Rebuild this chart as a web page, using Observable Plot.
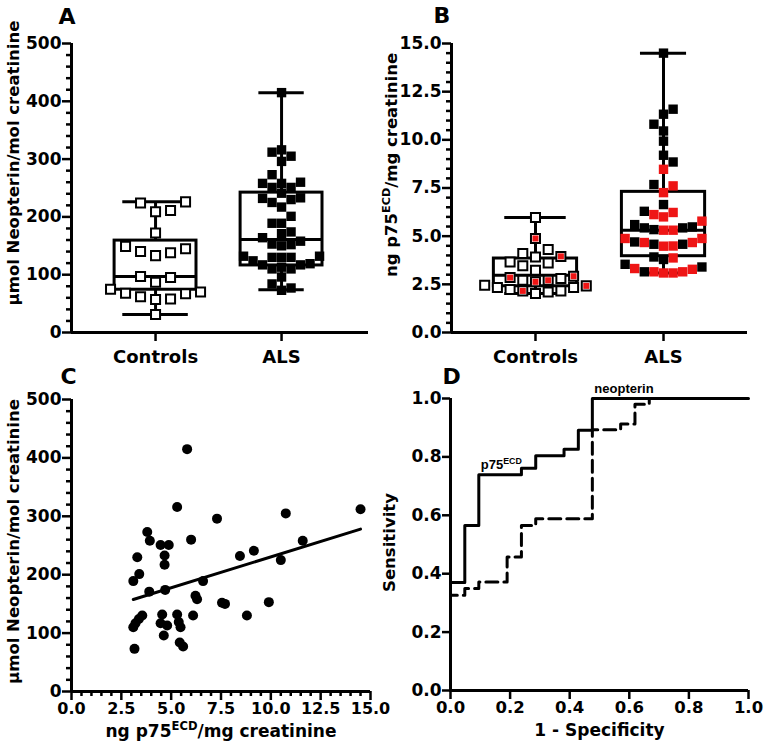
<!DOCTYPE html>
<html><head><meta charset="utf-8">
<script src="https://cdn.jsdelivr.net/npm/d3@7"></script>
<script src="https://cdn.jsdelivr.net/npm/@observablehq/plot@0.6"></script>
<style>
html,body{margin:0;padding:0;background:#fff;}
#fig{position:relative;width:765px;height:750px;overflow:hidden;background:#fff;}
#fig svg{position:absolute;}
</style></head><body><div id="fig"></div>
<script>
// ---------- data ----------
const groups = ["Controls", "ALS"];
const groupPos = [1, 2];

// Panel A: urinary neopterin (µmol/mol creatinine)
const neoControls = [226, 224, 211, 209, 172, 149, 145, 140, 138, 133, 97, 95, 87, 75, 70, 68, 67, 62, 58, 57, 31];
const neoMin = [31, 74];
const neoQ1 = [74, 116];
const neoMed = [97, 161];
const neoQ3 = [159, 242];
const neoMax = [226, 415];

// Panel C (ALS pairs): p75ECD vs neopterin; Panel A ALS uses the same neopterin values
const alsP75 = [5.8, 5.3, 7.3, 10.75, 14.5, 3.8, 3.93, 4.47, 4.88, 6.0, 3.3, 4.67, 4.67, 8.45, 9.15, 11.6, 10.5, 3.1, 3.4, 6.6, 3.9, 4.7, 6.22, 6.3, 7.55, 7.7, 9.9, 8.8, 6.1, 3.55, 3.38, 3.21, 3.1, 4.55, 4.47, 4.8, 4.63, 5.3, 5.38, 5.47, 5.43, 5.6, 3.16];
const alsNeopterin = [415, 316, 296, 305, 312, 273, 258, 251, 251, 260, 230, 233, 217, 232, 241, 258, 225, 189, 201, 189, 171, 174, 164, 158, 152, 150, 153, 130, 130, 130, 124, 117, 110, 132, 117, 113, 96, 132, 119, 110, 84, 77, 73];

// Panel B: urinary p75ECD (ng/mg creatinine); 1 = red symbol
const p75Controls = [5.97, 4.88, 4.31, 4.10, 3.95, 3.92, 3.66, 3.61, 3.46, 3.23, 2.92, 2.85, 2.80, 2.71, 2.71, 2.63, 2.45, 2.42, 2.34, 2.34, 2.23, 2.16, 2.16, 2.10, 2.02];
const p75ControlsRed = [0,1,0,0,1,0,0,0,0,0,1,1,0,1,0,1,0,1,0,0,0,1,0,0,0];
const p75ALS = [14.5, 11.59, 11.33, 10.81, 10.46, 9.93, 9.2, 8.85, 8.47, 7.68, 7.61, 7.26, 6.64, 6.29, 6.23, 6.12, 6.0, 5.78, 5.6, 5.48, 5.43, 5.43, 5.34, 5.31, 5.31, 4.88, 4.88, 4.7, 4.67, 4.67, 4.58, 4.58, 4.49, 4.48, 3.92, 3.87, 3.79, 3.54, 3.4, 3.32, 3.28, 3.15, 3.15, 3.15, 3.09, 3.09];
const p75ALSRed = [0,0,0,0,0,0,0,0,1,0,1,1,0,0,1,1,1,1,0,0,0,0,0,1,1,1,1,0,1,1,0,0,1,1,0,1,0,0,0,1,1,1,1,0,1,1];
const p75Min = [2.02, 3.09];
const p75Q1 = [2.4, 3.96];
const p75Med = [2.97, 5.31];
const p75Q3 = [3.84, 7.3];
const p75Max = [5.97, 14.5];

// Panel D: ROC curves
const rocP75X = [0, 0, 0.048, 0.095, 0.238, 0.286, 0.381, 0.429, 0.476, 1];
const rocP75Y = [0, 0.37, 0.565, 0.739, 0.761, 0.804, 0.826, 0.891, 1, 1];
const rocNeoX = [0, 0, 0.048, 0.095, 0.19, 0.238, 0.286, 0.476, 0.571, 0.619, 0.667, 1];
const rocNeoY = [0, 0.326, 0.349, 0.372, 0.457, 0.565, 0.588, 0.893, 0.913, 0.98, 1, 1];
const rocLabels = ["p75ECD", "neopterin"];
const rocLabelX = [0.095, 0.476];
const rocLabelY = [0.739, 1];

// tick labels
const neoTicks = [0, 100, 200, 300, 400, 500];
const p75Ticks = [0, 2.5, 5, 7.5, 10, 12.5, 15];
const rocTicks = [0, 0.2, 0.4, 0.6, 0.8, 1.0];

// ---------- helpers ----------
const FONT = "DejaVu Sans, sans-serif";
const LW = 3;
const RED = "#ee1515";
const baseStyle = {background: "transparent", overflow: "visible", fontFamily: FONT, fontWeight: "bold", color: "black"};
const f1 = d3.format(".1f");

function minorTicks(lo, hi, step, majors) {
  return d3.range(lo, hi + step / 2, step).map(v => +v.toFixed(4)).filter(v => !majors.some(m => Math.abs(m - v) < 1e-6));
}

// simple deterministic beeswarm: returns x (data units) for each value
function swarmX(values, center, kx, ky, sx, sy) {
  const order = d3.range(values.length).sort((a, b) => d3.ascending(values[a], values[b]));
  const placed = [];
  const xs = new Array(values.length);
  let flip = false;
  for (const i of order) {
    const py = values[i] * ky;
    const near = placed.filter(p => Math.abs(p.py - py) < sy);
    const cands = [0];
    for (const p of near) cands.push(p.px - sx, p.px + sx);
    cands.sort((a, b) => Math.abs(a) - Math.abs(b) || (flip ? a - b : b - a));
    const px = cands.find(c => near.every(p => Math.abs(p.px - c) > sx - 0.01));
    if (px !== 0) flip = !flip;
    placed.push({px, py});
    xs[i] = center + px / kx;
  }
  return xs;
}

function boxMarks(mins, q1s, meds, q3s, maxs, capHalf) {
  const idx = [0, 1], bx = 0.325;
  return [
    Plot.ruleX(idx, {x: i => groupPos[i], y1: i => mins[i], y2: i => q1s[i], strokeWidth: LW}),
    Plot.ruleX(idx, {x: i => groupPos[i], y1: i => q3s[i], y2: i => maxs[i], strokeWidth: LW}),
    Plot.rect(idx, {x1: i => groupPos[i] - bx, x2: i => groupPos[i] + bx, y1: i => q1s[i], y2: i => q3s[i], fill: "none", stroke: "black", strokeWidth: LW}),
    Plot.ruleY(idx, {y: i => meds[i], x1: i => groupPos[i] - bx, x2: i => groupPos[i] + bx, strokeWidth: LW}),
    Plot.ruleY(idx, {y: i => mins[i], x1: i => groupPos[i] - capHalf[i], x2: i => groupPos[i] + capHalf[i], strokeWidth: LW}),
    Plot.ruleY(idx, {y: i => maxs[i], x1: i => groupPos[i] - capHalf[i], x2: i => groupPos[i] + capHalf[i], strokeWidth: LW})
  ];
}

function letter(t, dx, dy) {
  return Plot.text([t], {text: d => d, frameAnchor: "top-left", dx, dy, textAnchor: "start", lineAnchor: "bottom", fontSize: 22, fontWeight: "bold", fontFamily: FONT});
}
function yTitle(t, dx, dy) {
  return Plot.text([t], {text: d => d, frameAnchor: "left", rotate: -90, dx, dy, textAnchor: "middle", lineAnchor: "bottom", fontSize: 16.5, fontWeight: "bold", fontFamily: FONT});
}
function xTitle(t, dy) {
  return Plot.text([t], {text: d => d, frameAnchor: "bottom", dy, textAnchor: "middle", lineAnchor: "bottom", fontSize: 17, fontWeight: "bold", fontFamily: FONT});
}

function supers(svg) {
  const ns = "http://www.w3.org/2000/svg";
  svg.querySelectorAll("text").forEach(t => {
    const s = t.textContent;
    if (!s.includes("ECD") || t.children.length) return;
    const [a, b] = s.split("ECD");
    t.textContent = "";
    const t1 = document.createElementNS(ns, "tspan"); t1.textContent = a;
    const t2 = document.createElementNS(ns, "tspan"); t2.textContent = "ECD";
    t2.setAttribute("font-size", "0.68em"); t2.setAttribute("dy", "-0.55em");
    const t3 = document.createElementNS(ns, "tspan"); t3.textContent = b;
    t3.setAttribute("dy", "0.374em");
    t.append(t1, t2, t3);
  });
}
function place(svg, left, top) {
  svg.style.left = left + "px";
  svg.style.top = top + "px";
  supers(svg);
  document.getElementById("fig").appendChild(svg);
}

// ---------- Panel A ----------
{
  const width = 380, height = 372, mL = 71, mR = 12, mT = 43, mB = 40;
  const xDom = [0.333, 2.69], yDom = [0, 500];
  const kx = (width - mL - mR) / (xDom[1] - xDom[0]);
  const ky = (height - mT - mB) / (yDom[1] - yDom[0]);
  const xC = swarmX(neoControls, 1, kx, ky, 15, 11);
  const xA = swarmX(alsNeopterin, 2, kx, ky, 9.5, 9.5);
  const svg = Plot.plot({
    width, height, marginLeft: mL, marginRight: mR, marginTop: mT, marginBottom: mB,
    x: {domain: xDom, axis: null}, y: {domain: yDom, axis: null}, style: baseStyle,
    marks: [
      Plot.axisY(neoTicks, {tickSize: 9, tickPadding: 1, strokeWidth: 2.5, fontSize: 17, label: null}),
      Plot.axisY(minorTicks(0, 500, 20, neoTicks), {tickSize: 5, strokeWidth: 2.5, tickFormat: () => "", label: null}),
      Plot.axisX(groupPos, {tickSize: 9, tickPadding: 9, strokeWidth: 2.5, fontSize: 18, tickFormat: d => groups[d - 1], label: null}),
      Plot.ruleX([xDom[0]], {strokeWidth: LW}),
      Plot.ruleY([0], {strokeWidth: LW}),
      ...boxMarks(neoMin, neoQ1, neoMed, neoQ3, neoMax, [0.26, 0.18]),
      Plot.dot(neoControls, {x: (d, i) => xC[i], y: d => d, symbol: "square", r: 5.1, fill: "white", stroke: "black", strokeWidth: 2}),
      Plot.dot(alsNeopterin, {x: (d, i) => xA[i], y: d => d, symbol: "square", r: 5.3, fill: "black"}),
      letter("A", -13, -20),
      yTitle("µmol Neopterin/mol creatinine", -53, -25)
    ]
  });
  place(svg, 0, 0);
}

// ---------- Panel B ----------
{
  const width = 385, height = 372, mL = 71, mR = 18, mT = 43, mB = 40;
  const xDom = [0.344, 2.656], yDom = [0, 15];
  const kx = (width - mL - mR) / (xDom[1] - xDom[0]);
  const ky = (height - mT - mB) / (yDom[1] - yDom[0]);
  const xC = swarmX(p75Controls, 1, kx, ky, 12.7, 10);
  const xA = swarmX(p75ALS, 2, kx, ky, 9.6, 9.5);
  const svg = Plot.plot({
    width, height, marginLeft: mL, marginRight: mR, marginTop: mT, marginBottom: mB,
    x: {domain: xDom, axis: null}, y: {domain: yDom, axis: null}, color: {type: "identity"}, style: baseStyle,
    marks: [
      Plot.axisY(p75Ticks, {tickSize: 9, tickPadding: 1, strokeWidth: 2.5, fontSize: 17, tickFormat: f1, label: null}),
      Plot.axisY(minorTicks(0, 15, 0.5, p75Ticks), {tickSize: 5, strokeWidth: 2.5, tickFormat: () => "", label: null}),
      Plot.axisX(groupPos, {tickSize: 9, tickPadding: 9, strokeWidth: 2.5, fontSize: 18, tickFormat: d => groups[d - 1], label: null}),
      Plot.ruleX([xDom[0]], {strokeWidth: LW}),
      Plot.ruleY([0], {strokeWidth: LW}),
      ...boxMarks(p75Min, p75Q1, p75Med, p75Q3, p75Max, [0.24, 0.18]),
      Plot.dot(p75Controls, {x: (d, i) => xC[i], y: d => d, symbol: "square", r: 5.1, fill: "white", stroke: "black", strokeWidth: 2}),
      Plot.dot(p75Controls, {filter: (d, i) => p75ControlsRed[i], x: (d, i) => xC[i], y: d => d, symbol: "square", r: 3.4, fill: RED}),
      Plot.dot(p75ALS, {x: (d, i) => xA[i], y: d => d, symbol: "square", r: 5.3, fill: (d, i) => p75ALSRed[i] ? RED : "black"}),
      letter("B", -18, -21),
      yTitle("ng p75ECD/mg creatinine", -55, -23)
    ]
  });
  place(svg, 380, 0);
}

// ---------- Panel C ----------
{
  const width = 380, height = 380, mL = 71, mR = 10, mT = 29, mB = 59;
  const idx = d3.range(alsP75.length);
  const svg = Plot.plot({
    width, height, marginLeft: mL, marginRight: mR, marginTop: mT, marginBottom: mB,
    x: {domain: [0, 15], axis: null}, y: {domain: [0, 500], axis: null}, style: baseStyle,
    marks: [
      Plot.axisY(neoTicks, {tickSize: 9, tickPadding: 1, strokeWidth: 2.5, fontSize: 17, label: null}),
      Plot.axisY(minorTicks(0, 500, 20, neoTicks), {tickSize: 5, strokeWidth: 2.5, tickFormat: () => "", label: null}),
      Plot.axisX(p75Ticks, {tickSize: 9, tickPadding: 2, strokeWidth: 2.5, fontSize: 16, tickFormat: f1, label: null}),
      Plot.axisX(minorTicks(0, 15, 0.5, p75Ticks), {tickSize: 5, strokeWidth: 2.5, tickFormat: () => "", label: null}),
      Plot.ruleX([0], {strokeWidth: LW}),
      Plot.ruleY([0], {strokeWidth: LW}),
      Plot.dot(idx, {x: i => alsP75[i], y: i => alsNeopterin[i], r: 5, fill: "black"}),
      Plot.linearRegressionY(idx, {x: i => alsP75[i], y: i => alsNeopterin[i], ci: 0, stroke: "black", strokeWidth: LW}),
      letter("C", -11, -16),
      yTitle("µmol Neopterin/mol creatinine", -53, -4),
      xTitle("ng p75ECD/mg creatinine", 45)
    ]
  });
  place(svg, 0, 370);
}

// ---------- Panel D ----------
{
  const width = 385, height = 380, mL = 70, mR = 17, mT = 28, mB = 60;
  const svg = Plot.plot({
    width, height, marginLeft: mL, marginRight: mR, marginTop: mT, marginBottom: mB,
    x: {domain: [0, 1], axis: null}, y: {domain: [0, 1], axis: null}, style: baseStyle,
    marks: [
      Plot.axisY(rocTicks, {tickSize: 8, tickPadding: 1, strokeWidth: 2.5, fontSize: 17, tickFormat: f1, label: null}),
      Plot.axisX(rocTicks, {tickSize: 9, tickPadding: 2, strokeWidth: 2.5, fontSize: 16.5, tickFormat: f1, label: null}),
      Plot.line(d3.range(rocNeoX.length), {x: i => rocNeoX[i], y: i => rocNeoY[i], curve: "step-after", stroke: "black", strokeWidth: LW, strokeDasharray: "12,6"}),
      Plot.line(d3.range(rocP75X.length), {x: i => rocP75X[i], y: i => rocP75Y[i], curve: "step-after", stroke: "black", strokeWidth: LW}),
      Plot.ruleX([0], {strokeWidth: LW}),
      Plot.ruleY([0], {strokeWidth: LW}),
      Plot.text(rocLabels, {text: d => d, x: (d, i) => rocLabelX[i], y: (d, i) => rocLabelY[i], dx: 2, dy: -6, textAnchor: "start", lineAnchor: "bottom", fontSize: 13, fontWeight: "bold", fontFamily: "Liberation Sans, Arial, sans-serif"}),
      letter("D", -8, -15),
      yTitle("Sensitivity", -56, -2),
      xTitle("1 - Specificity", 45)
    ]
  });
  place(svg, 380, 370);
}
</script></body></html>
